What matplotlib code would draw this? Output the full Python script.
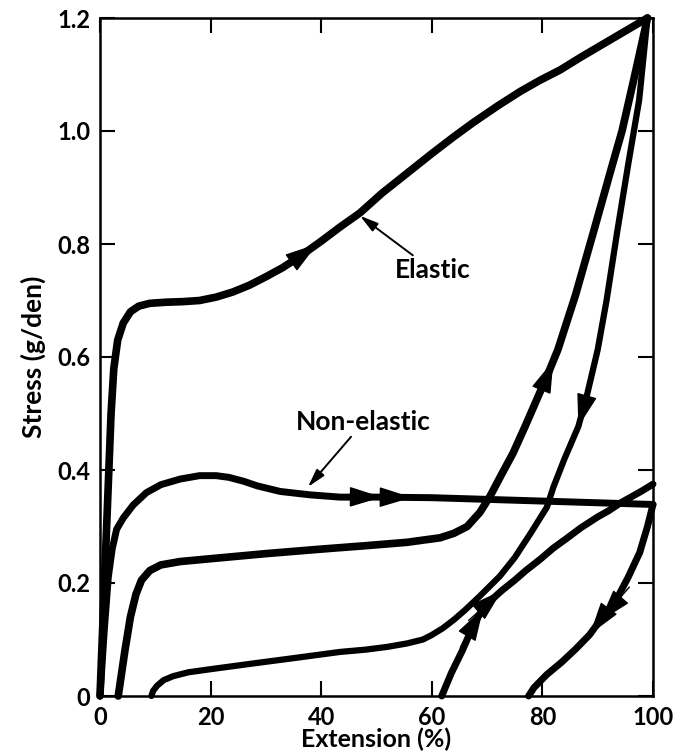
import numpy as np
import matplotlib.pyplot as plt

plt.rcParams['font.family'] = ['Lato', 'DejaVu Sans']
plt.rcParams['font.weight'] = 'bold'

# elastic fibre, first loading
el_load_x = [0, 1.0, 2.0, 2.5, 3.2, 4.2, 5.5, 7, 9, 12, 15, 18, 21, 24, 27, 30, 33, 36, 40, 43.4, 47,
             51, 55.5, 60, 64, 67.5, 72, 76, 79.6, 83.2, 87, 91.7, 95, 99]
el_load_y = [0, 0.25, 0.50, 0.58, 0.63, 0.66, 0.68, 0.69, 0.695, 0.697, 0.698, 0.70, 0.706, 0.715,
             0.727, 0.742, 0.758, 0.777, 0.805, 0.83, 0.855, 0.89, 0.925, 0.96, 0.99, 1.015, 1.045,
             1.07, 1.09, 1.108, 1.131, 1.158, 1.177, 1.2]

# elastic fibre, unloading
el_unload_x = [99, 97.5, 95.5, 93.5, 91.6, 90, 88, 86.5, 84, 82, 80.8, 78, 75, 72.3, 68.7, 66, 64,
               62, 60, 58.4, 55.5, 52, 48, 43.4, 35, 28, 20.4, 16, 13.2, 11.5, 10.3, 9.6, 9.3]
el_unload_y = [1.2, 1.055, 0.94, 0.82, 0.70, 0.613, 0.53, 0.477, 0.42, 0.37, 0.334, 0.29, 0.245,
               0.212, 0.177, 0.152, 0.135, 0.12, 0.108, 0.10, 0.093, 0.087, 0.082, 0.078, 0.067,
               0.058, 0.048, 0.042, 0.035, 0.028, 0.018, 0.009, 0]

# elastic fibre, reloading
el_reload_x = [3.3, 4.5, 5.5, 6.5, 7.5, 9, 11, 14.5, 20, 30, 40, 48, 55.5, 61.5, 64, 66.4, 68.7,
               70.5, 72.5, 74.7, 77, 79, 81, 82.8, 86, 89.2, 92.5, 94.4, 96.5, 99]
el_reload_y = [0, 0.08, 0.14, 0.18, 0.205, 0.222, 0.232, 0.238, 0.243, 0.252, 0.26, 0.266, 0.272,
               0.28, 0.288, 0.30, 0.325, 0.353, 0.39, 0.43, 0.48, 0.525, 0.57, 0.613, 0.71, 0.82,
               0.935, 1.0, 1.09, 1.2]

# non-elastic fibre, loading
ne_load_x = [0, 0.8, 1.5, 2.2, 3.0, 4.2, 6, 8.4, 11, 14.5, 18, 21, 23.3, 26, 28.4, 32.6, 38, 43.4,
             50, 60, 70, 80, 90, 100]
ne_load_y = [0, 0.12, 0.21, 0.26, 0.295, 0.315, 0.338, 0.36, 0.374, 0.384, 0.39, 0.39, 0.387,
             0.38, 0.372, 0.362, 0.356, 0.352, 0.352, 0.351, 0.348, 0.345, 0.342, 0.339]

# non-elastic fibre, unloading
ne_unload_x = [100, 99, 97.6, 95.5, 93.4, 91.5, 90, 88.5, 86, 83.5, 80.8, 78.5, 77.5]
ne_unload_y = [0.339, 0.30, 0.254, 0.21, 0.171, 0.145, 0.128, 0.108, 0.083, 0.06, 0.038, 0.015, 0]

# non-elastic fibre, reloading
ne_reload_x = [61.8, 63.5, 65.5, 67.5, 69.3, 71, 72.7, 75, 77, 79.6, 82, 84.4, 87, 90, 92, 94, 96,
               98, 100]
ne_reload_y = [0, 0.04, 0.08, 0.125, 0.155, 0.172, 0.187, 0.205, 0.222, 0.242, 0.262, 0.279, 0.298,
               0.317, 0.328, 0.341, 0.352, 0.363, 0.375]

x_ticks = [0, 20, 40, 60, 80, 100]
y_ticks = [0, 0.2, 0.4, 0.6, 0.8, 1.0, 1.2]
y_tick_labels = ['0', '0.2', '0.4', '0.6', '0.8', '1.0', '1.2']

fig = plt.figure(figsize=(6.79, 7.55), dpi=100)
ax = fig.add_axes([100 / 679, 59 / 755, 553 / 679, 678 / 755])
ax.set_xlim(0, 100)
ax.set_ylim(0, 1.2)

curves = [
    (el_load_x, el_load_y, 5.5),
    (el_unload_x, el_unload_y, 4.5),
    (el_reload_x, el_reload_y, 5.5),
    (ne_load_x, ne_load_y, 5.0),
    (ne_unload_x, ne_unload_y, 5.0),
    (ne_reload_x, ne_reload_y, 5.0),
]
for cx, cy, lw in curves:
    ax.plot(cx, cy, color='black', lw=lw, solid_joinstyle='round', solid_capstyle='round',
            clip_on=False)


def arrow_on(cx, cy, at_x):
    # arrow head sitting on the curve, pointing along the drawing order
    cx = np.asarray(cx, float)
    cy = np.asarray(cy, float)
    for i in range(len(cx) - 1):
        lo, hi = sorted((cx[i], cx[i + 1]))
        if lo <= at_x <= hi and hi > lo:
            t = (at_x - cx[i]) / (cx[i + 1] - cx[i])
            px = cx[i] + t * (cx[i + 1] - cx[i])
            py = cy[i] + t * (cy[i + 1] - cy[i])
            p0 = ax.transData.transform((cx[i], cy[i]))
            p1 = ax.transData.transform((cx[i + 1], cy[i + 1]))
            d = (p1 - p0) / np.hypot(*(p1 - p0))
            ax.annotate('', xy=(px, py), xytext=(-d[0] * 45, -d[1] * 45),
                        textcoords='offset pixels',
                        arrowprops=dict(arrowstyle='-|>,head_length=2.1,head_width=0.65',
                                        mutation_scale=10, fc='black', ec='black', lw=1,
                                        shrinkA=0, shrinkB=0))
            return


arrow_on(el_load_x, el_load_y, 39.3)
arrow_on(ne_load_x, ne_load_y, 51)
arrow_on(ne_load_x, ne_load_y, 56.4)
arrow_on(el_reload_x, el_reload_y, 82)
arrow_on(el_unload_x, el_unload_y, 86.5)
arrow_on(ne_unload_x, ne_unload_y, 90.4)
arrow_on(ne_unload_x, ne_unload_y, 88.6)
arrow_on(ne_reload_x, ne_reload_y, 69.3)
arrow_on(ne_reload_x, ne_reload_y, 72.7)

label_style = dict(arrowstyle='-|>,head_length=1.1,head_width=0.3', mutation_scale=10,
                   fc='black', ec='black', lw=1.4, shrinkA=0, shrinkB=0)
ax.annotate('Elastic', xy=(47, 0.85), xytext=(53.3, 0.775), fontsize=19, fontweight='bold',
            ha='left', va='top', arrowprops=label_style)
ax.annotate('Non-elastic', xy=(37.6, 0.37), xytext=(35.5, 0.485), fontsize=19,
            fontweight='bold', ha='left', va='center', arrowprops=label_style)

ax.set_xticks(x_ticks)
ax.set_xticklabels([str(v) for v in x_ticks])
ax.set_yticks(y_ticks)
ax.set_yticklabels(y_tick_labels)
ax.tick_params(direction='in', length=11, width=1.5, top=True, right=True, labelsize=17,
               pad=7)
for lab in ax.get_xticklabels() + ax.get_yticklabels():
    lab.set_fontweight('bold')
for s in ax.spines.values():
    s.set_linewidth(1.8)

ax.set_xlabel('Extension (%)', fontsize=18, fontweight='bold', labelpad=-1)
ax.set_ylabel('Stress (g/den)', fontsize=19, fontweight='bold', labelpad=8)

fig.savefig('out.png', dpi=100)
